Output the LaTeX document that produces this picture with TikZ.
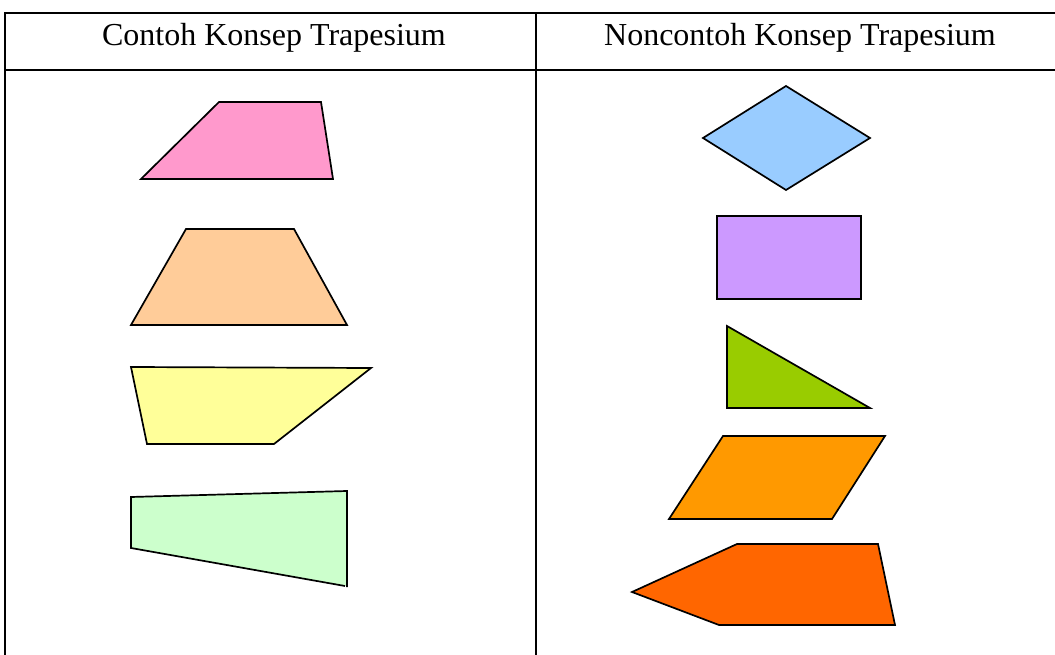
\documentclass[tikz,border=0pt]{standalone}
\usepackage{fontspec}
\setmainfont{Liberation Serif}
\begin{document}
\begin{tikzpicture}[x=1pt,y=-1pt,
  rule/.style={line width=1.6pt,black},
  shp/.style={draw=black,line width=1.7pt,line join=miter},
  head/.style={font=\fontsize{32}{36}\selectfont,anchor=base,inner sep=0pt}]
\definecolor{cpink}{HTML}{FF99CC}
\definecolor{cpeach}{HTML}{FFCC99}
\definecolor{cyellow}{HTML}{FFFF99}
\definecolor{cgreen}{HTML}{CCFFCC}
\definecolor{cblue}{HTML}{99CCFF}
\definecolor{cpurple}{HTML}{CC99FF}
\definecolor{clime}{HTML}{99CC00}
\definecolor{corange}{HTML}{FF9900}
\definecolor{cred}{HTML}{FF6600}
\useasboundingbox (0,0) rectangle (1055,655);
% table
\draw[rule] (5,13) -- (1055,13);
\draw[rule] (5,70) -- (1055,70);
\draw[rule] (5,12.2) -- (5,655);
\draw[rule] (536,13) -- (536,655);
\node[head] (h1) at (274,46) {Contoh Konsep Trapesium};
\node[head] (h2) at (800,46) {Noncontoh Konsep Trapesium};
% left column
\filldraw[shp,fill=cpink] (141,179) -- (219,102) -- (321,102) -- (333,179) -- cycle;
\filldraw[shp,fill=cpeach] (131,325) -- (186,229) -- (294,229) -- (347,325) -- cycle;
\filldraw[shp,fill=cyellow] (131,367) -- (371,368) -- (274,444) -- (147,444) -- cycle;
\fill[cgreen] (131,497) -- (347,491) -- (347,586) -- (131,548) -- cycle;
\draw[shp] (347,587) -- (347,491) -- (131,497) -- (131,548) -- (345,586);
% right column
\filldraw[shp,fill=cblue] (703,138) -- (786,86) -- (870,138) -- (786,190) -- cycle;
\filldraw[shp,fill=cpurple] (717,216) rectangle (861,299);
\filldraw[shp,fill=clime] (727,326) -- (727,408) -- (870,408) -- cycle;
\filldraw[shp,fill=corange] (723,436) -- (885,436) -- (832,519) -- (669,519) -- cycle;
\filldraw[shp,fill=cred] (737,544) -- (878,544) -- (895,625) -- (719,625) -- (632,592) -- cycle;
\end{tikzpicture}
\end{document}
